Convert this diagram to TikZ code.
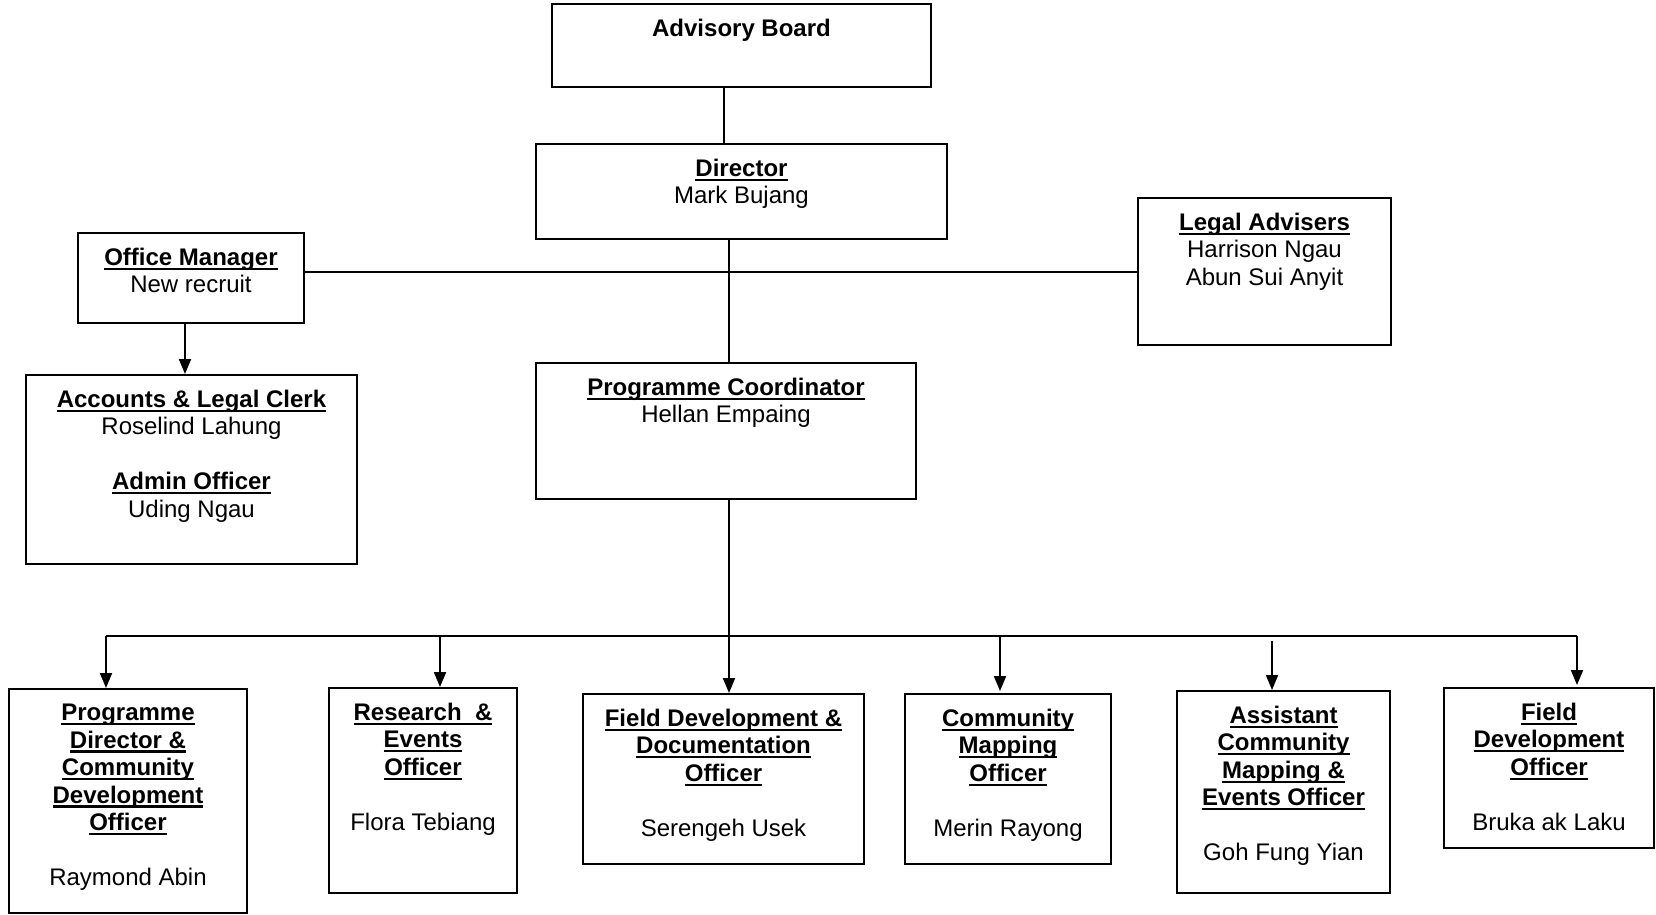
\documentclass[tikz,border=0pt]{standalone}
\usepackage{fontspec}
\setmainfont{Liberation Sans}
\usetikzlibrary{positioning, arrows.meta}

% bold title with a fixed underline
\newcommand{\ttl}[1]{\setbox0=\hbox{\bfseries #1}\rlap{\rule[-4.5pt]{\wd0}{2.2pt}}\box0}

\begin{document}
\begin{tikzpicture}[x=1pt, y=-1pt, line width=2pt,
     >={Triangle[length=15pt,width=12pt]},
     box/.style={draw, rectangle, anchor=north west, inner sep=0pt},
     txt/.style={anchor=north, align=center, inner sep=0pt, yshift=-15pt,
        font=\fontsize{24}{27.5}\selectfont}]

  \useasboundingbox (0,0) rectangle (1656,914);

  % upper part
  \node[box, minimum width=379pt, minimum height=83pt,
        label={[txt]north:{\textbf{Advisory Board}}}] (ab) at (551,3) {};
  \node[box, minimum width=411pt, minimum height=95pt,
        label={[txt]north:{\ttl{Director}\\Mark Bujang}}] (dir) at (535,143) {};
  \node[box, minimum width=226pt, minimum height=90pt,
        label={[txt]north:{\ttl{Office Manager}\\New recruit}}] (om) at (77,232) {};
  \node[box, minimum width=253pt, minimum height=147pt,
        label={[txt]north:{\ttl{Legal Advisers}\\Harrison Ngau\\Abun Sui Anyit}}] (la) at (1137,197) {};
  \node[box, minimum width=331pt, minimum height=189pt,
        label={[txt]north:{\ttl{Accounts \& Legal Clerk}\\Roselind Lahung\\[27.5pt]\ttl{Admin Officer}\\Uding Ngau}}] (acc) at (25,374) {};
  \node[box, minimum width=380pt, minimum height=136pt,
        label={[txt]north:{\ttl{Programme Coordinator}\\Hellan Empaing}}] (pc) at (535,362) {};

  % officers
  \node[box, minimum width=238pt, minimum height=224pt,
        label={[txt]north:{\ttl{Programme}\\\ttl{Director \&}\\\ttl{Community}\\\ttl{Development}\\\ttl{Officer}\\[27.5pt]Raymond Abin}}] (pd) at (8,688) {};
  \node[box, minimum width=188pt, minimum height=205pt,
        label={[txt]north:{\ttl{Research \ \&}\\\ttl{Events}\\\ttl{Officer}\\[27.5pt]Flora Tebiang}}] (re) at (328,687) {};
  \node[box, minimum width=281pt, minimum height=170pt,
        label={[txt]north:{\ttl{Field Development \&}\\\ttl{Documentation}\\\ttl{Officer}\\[27.5pt]Serengeh Usek}}] (fdd) at (582,693) {};
  \node[box, minimum width=206pt, minimum height=170pt,
        label={[txt]north:{\ttl{Community}\\\ttl{Mapping}\\\ttl{Officer}\\[27.5pt]Merin Rayong}}] (cm) at (904,693) {};
  \node[box, minimum width=213pt, minimum height=202pt,
        label={[txt]north:{\ttl{Assistant}\\\ttl{Community}\\\ttl{Mapping \&}\\\ttl{Events Officer}\\[27.5pt]Goh Fung Yian}}] (acme) at (1176,690) {};
  \node[box, minimum width=210pt, minimum height=160pt,
        label={[txt]north:{\ttl{Field}\\\ttl{Development}\\\ttl{Officer}\\[27.5pt]Bruka ak Laku}}] (fdo) at (1443,687) {};

  \coordinate (busL) at (106,636);
  \coordinate (busR) at (1577,636);
  \coordinate (a2) at (440,636);
  \coordinate (a4) at (1000,636);
  \coordinate (a5) at (1272,641);

  \draw ([xshift=-18pt]ab.south) -- ([xshift=-18pt]ab.south |- dir.north);
  \draw (la.west) -- (la.west -| om.east);
  \draw ([xshift=3pt]pc.north) -- ([xshift=3pt]pc.north |- dir.south);
  \draw[->] ([xshift=-6pt]om.south) -- ([xshift=-6pt]om.south |- acc.north);
  \draw[->] ([xshift=3pt]pc.south) -- ([xshift=3pt]pc.south |- fdd.north);
  \draw (busL) -- (busR);
  \path[->]
   (busL) edge (busL |- pd.north)
   (a2) edge (a2 |- re.north)
   (a4) edge[shorten >=2pt] (a4 |- cm.north)
   (a5) edge (a5 |- acme.north)
   (busR) edge[shorten >=2pt] (busR |- fdo.north);
\end{tikzpicture}
\end{document}
